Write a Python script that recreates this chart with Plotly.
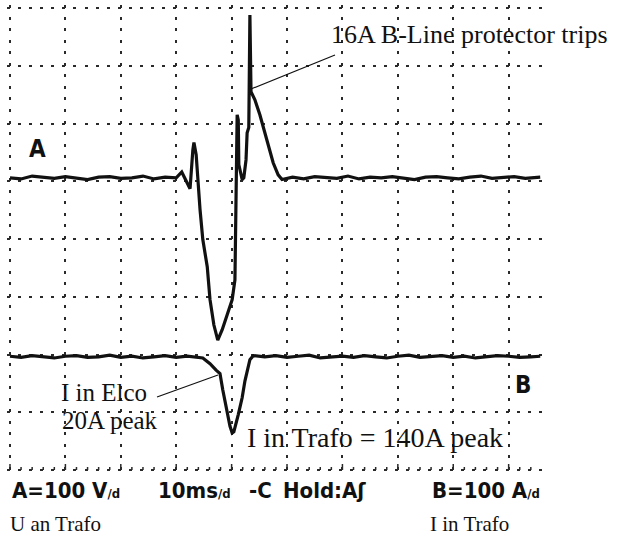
import plotly.graph_objects as go

# ---------------- data ----------------
# time in ms (10 ms / div), channel A in V (100 V/div), channel B in A (100 A/div)
a_time = [0, 2, 4, 6, 8, 10, 12, 14, 16, 18, 20, 22, 24, 26, 28, 30,
          31.0, 32.1, 32.5, 33.0, 33.2, 33.6, 33.8, 34.3, 34.8, 35.6, 36.1, 36.8,
          37.5, 38.3, 39.2, 40.1, 40.6, 40.8, 41.0, 41.2, 41.3, 41.9, 42.2, 42.6,
          42.8, 43.1, 43.3, 43.5, 44.2, 45.1, 46.4, 47.5, 48.4, 49.1,
          51, 53, 55, 57, 59, 61, 63, 65, 67, 69, 71, 73, 75, 77, 79, 81, 83, 85,
          87, 89, 91, 93, 95.7]
a_volts = [0, -2, 3, 1, -1, 2, 0, -3, 1, 2, -1, 0, 3, -2, 1, 0,
           10, -12, -19, 48, 61, 40, 9, -55, -107, -154, -211, -255,
           -281, -263, -237, -211, -177, -38, 109, 100, 23, -3, 0, 31,
           78, 87, 282, 149, 135, 109, 66, 26, 5, -3,
           1, -2, 2, 0, -1, 3, -2, 1, 0, 2, -1, -3, 1, 2, 0, -2, 1, 3,
           -1, 0, 2, -1, 1]

b_time = [0, 2, 4, 6, 8, 10, 12, 14, 16, 18, 20, 22, 24, 26, 28, 30, 32,
          34.8, 36.1, 37.2, 37.9, 38.4, 39.2, 39.7, 40.1, 40.4, 41.2, 41.9, 42.4,
          43.3, 43.9,
          46, 48, 50, 52, 54, 56, 58, 60, 62, 64, 66, 68, 70, 72, 74, 76, 78, 80,
          82, 84, 86, 88, 90, 92, 94, 95.7]
b_amps = [1, -1, 2, 0, -2, 1, 2, -1, 0, 3, -1, 1, -2, 0, 2, -1, 1,
          -2, -12, -23, -29, -57, -95, -120, -132, -130, -100, -71, -42,
          -5, 2,
          0, 2, -1, 1, 3, -2, 0, 1, -1, 2, 0, -2, 1, 3, -1, 0, 2, -1,
          1, -2, 0, 2, 1, -1, 0, 1]

x_range = [-0.54, 96.2]        # ms shown on screen (10 ms / div)
a_range = [-511.2, 299.2]      # V  (100 V / div)
b_range = [-201.2, 609.2]      # A  (100 A / div)

# ---------------- geometry helpers (pixel -> paper) ----------------
W, H = 628, 543
PL, PR, PT, PB = 7, 543, 5, 473


def xp(px):
    return (px - PL) / (PR - PL)


def yp(py):
    return (PB - py) / (PB - PT)


INK = "#111111"
GRID = "#2a2a2a"
SERIF = "Liberation Serif, Times New Roman, serif"
SCOPE = "DejaVu Sans Condensed, Liberation Sans Narrow, DejaVu Sans, sans-serif"

fig = go.Figure()
fig.add_trace(go.Scatter(x=a_time, y=a_volts, mode="lines", yaxis="y",
                         line=dict(color=INK, width=3.2), hoverinfo="skip",
                         showlegend=False))
fig.add_trace(go.Scatter(x=b_time, y=b_amps, mode="lines", yaxis="y2",
                         line=dict(color=INK, width=3.2), hoverinfo="skip",
                         showlegend=False))

fig.update_layout(
    width=W, height=H,
    margin=dict(l=PL, r=W - PR, t=PT, b=H - PB, pad=0),
    paper_bgcolor="white", plot_bgcolor="white",
    showlegend=False,
    xaxis=dict(range=x_range, tick0=0, dtick=10, showgrid=True,
               gridcolor=GRID, gridwidth=2.2, griddash="3px,8.55px",
               zeroline=False, showline=False, showticklabels=False,
               ticks="", fixedrange=True),
    yaxis=dict(range=a_range, tick0=-506, dtick=100, showgrid=True,
               gridcolor=GRID, gridwidth=2.2, griddash="3px,8.08px",
               zeroline=False, showline=False, showticklabels=False,
               ticks="", fixedrange=True),
    yaxis2=dict(range=b_range, overlaying="y", showgrid=False,
                zeroline=False, showticklabels=False, ticks="",
                fixedrange=True),
)

# gap in the top grid line behind the caption
fig.add_shape(type="rect", xref="paper", yref="paper", layer="between",
              x0=xp(222), x1=xp(385), y0=yp(13), y1=yp(2),
              line=dict(width=0), fillcolor="white")

# small ticks along the bottom grid line (every 1/5 division)
tick_ms = [i * 2 for i in range(48)]
for t in tick_ms:
    major = (t % 10 == 0)
    fig.add_shape(type="line", xref="x", yref="paper", layer="between",
                  x0=t, x1=t, y0=yp(470), y1=yp(470 - (6 if major else 3)),
                  line=dict(color=GRID, width=1.5))

# callout lines
fig.add_shape(type="line", xref="paper", yref="paper",
              x0=xp(251), y0=yp(89), x1=xp(335), y1=yp(55),
              line=dict(color=INK, width=1.2))
fig.add_shape(type="line", xref="paper", yref="paper",
              x0=xp(157), y0=yp(397), x1=xp(218), y1=yp(375),
              line=dict(color=INK, width=1.2))


def label(text, px, py, size, family=SERIF, anchor="left", weight="normal"):
    fig.add_annotation(text=text, xref="paper", yref="paper",
                       x=xp(px), y=yp(py), xanchor=anchor, yanchor="middle",
                       showarrow=False,
                       font=dict(family=family, size=size, color=INK,
                                 weight=weight))


label("16A B-Line protector trips", 329, 34, 26)
label("I in Elco", 59, 392, 25)
label("20A peak", 60, 420, 25)
label("I in Trafo = 140A peak", 245, 437, 28)
label("U an Trafo", 8, 524, 21)
label("I in Trafo", 428, 524, 21)

# channel markers
label("A", 37, 149, 24, family=SCOPE, anchor="center", weight="bold")
label("B", 523, 385, 24, family=SCOPE, anchor="center", weight="bold")

# scope status line
small = "<span style='font-size:13px'>/d</span>"
label("A=100 V" + small, 10, 490, 22, family=SCOPE, weight="bold")
label("10ms" + small, 156, 490, 22, family=SCOPE, weight="bold")
label("-C", 247, 490, 22, family=SCOPE, weight="bold")
label("Hold:A\u0283", 281, 490, 22, family=SCOPE, weight="bold")
label("B=100 A" + small, 430, 490, 22, family=SCOPE, weight="bold")

fig.write_html("out.html", config={"displayModeBar": False},
               post_script="document.body.style.margin='0';")
